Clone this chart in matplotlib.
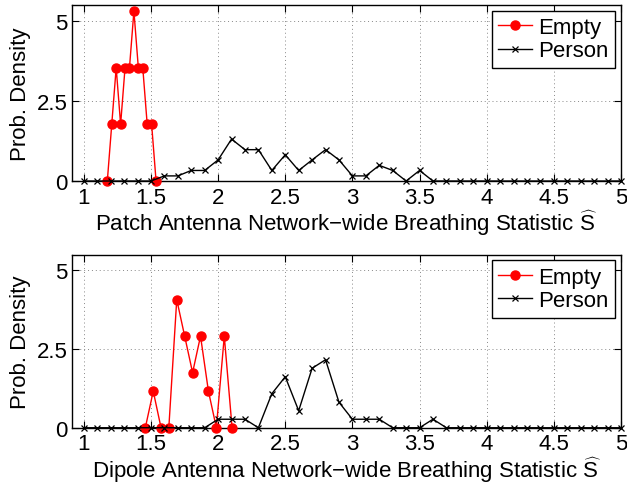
import numpy as np
import matplotlib
matplotlib.use("Agg")
import matplotlib.pyplot as plt

plt.rcParams["font.family"] = ["Liberation Sans", "DejaVu Sans"]
plt.rcParams["mathtext.fontset"] = "custom"
plt.rcParams["mathtext.rm"] = "Liberation Sans"

# ── data ──────────────────────────────────────────────────
person_x = np.round(np.arange(1.0, 5.01, 0.1), 1)

# top: patch antenna
patch_empty_x = [1.175, 1.208, 1.241, 1.274, 1.307, 1.340, 1.373, 1.406, 1.439, 1.472, 1.505, 1.538]
patch_empty_y = [0, 1.77, 3.54, 1.77, 3.54, 3.54, 5.31, 3.54, 3.54, 1.77, 1.77, 0]
patch_person_y = [0, 0, 0, 0, 0, 0, 0.16, 0.16, 0.33, 0.33,        # 1.0 - 1.9
                  0.66, 1.31, 0.98, 0.98, 0.33, 0.82, 0.33, 0.66, 0.98, 0.66,  # 2.0 - 2.9
                  0.16, 0.16, 0.49, 0.33, 0, 0.33, 0, 0, 0, 0,        # 3.0 - 3.9
                  0, 0, 0, 0, 0, 0, 0, 0, 0, 0,                        # 4.0 - 4.9
                  0]                                                   # 5.0

# bottom: dipole antenna
dipole_empty_x = [1.458, 1.517, 1.575, 1.633, 1.692, 1.751, 1.810, 1.869, 1.928, 1.987, 2.046, 2.104]
dipole_empty_y = [0, 1.16, 0, 0, 4.07, 2.91, 1.75, 2.91, 1.16, 0, 2.91, 0]
dipole_person_y = [0, 0, 0, 0, 0, 0, 0, 0, 0, 0,
                   0.27, 0.27, 0.27, 0, 1.08, 1.62, 0.54, 1.89, 2.16, 0.81,
                   0.27, 0.27, 0.27, 0, 0, 0, 0.27, 0, 0, 0,
                   0, 0, 0, 0, 0, 0, 0, 0, 0, 0,
                   0]

xticks = [1, 1.5, 2, 2.5, 3, 3.5, 4, 4.5, 5]
xticklabels = ["1", "1.5", "2", "2.5", "3", "3.5", "4", "4.5", "5"]
yticks = [0, 2.5, 5]
yticklabels = ["0", "2.5", "5"]

panels = [
    ("Patch", patch_empty_x, patch_empty_y, patch_person_y),
    ("Dipole", dipole_empty_x, dipole_empty_y, dipole_person_y),
]

FS = 16
fig = plt.figure(figsize=(6.27, 4.85), dpi=100)
boxes = [[0.1144, 0.6247, 0.876, 0.3629], [0.1144, 0.1160, 0.876, 0.3570]]

for (name, ex, ey, py), box in zip(panels, boxes):
    ax = fig.add_axes(box)
    ax.plot(ex, ey, color="red", marker="o", markersize=6.5, linewidth=1,
            label="Empty", clip_on=False, zorder=3)
    ax.plot(person_x, py, color="black", marker="x", markersize=5,
            markeredgewidth=0.9, linewidth=1, label="Person",
            clip_on=False, zorder=3)
    ax.set_xlim(0.91, 5)
    ax.set_ylim(0, 5.5)
    ax.set_xticks(xticks)
    ax.set_xticklabels(xticklabels, fontsize=FS)
    ax.set_yticks(yticks)
    ax.set_yticklabels(yticklabels, fontsize=FS)
    ax.tick_params(direction="in", top=True, right=True, length=5,
                   width=0.8)
    ax.tick_params(axis="x", pad=4)
    ax.tick_params(axis="y", pad=3)
    ax.grid(True, linestyle=(0, (1, 3)), color="#888888", linewidth=0.7)
    for s in ax.spines.values():
        s.set_linewidth(1.0)
    ax.set_ylabel("Prob. Density", fontsize=FS, labelpad=4)
    ax.set_xlabel(name + " Antenna Network\u2212wide Breathing Statistic $\\widehat{\\mathrm{S}}$",
                  fontsize=FS, labelpad=0)
    leg = ax.legend(loc="upper right", fontsize=FS, frameon=True, fancybox=False,
                    edgecolor="black", framealpha=1, handlelength=1.5,
                    handletextpad=0.3, borderpad=0.3, labelspacing=0.1,
                    borderaxespad=0.25)
    leg.get_frame().set_linewidth(1.0)

fig.savefig("out.png", dpi=100)
